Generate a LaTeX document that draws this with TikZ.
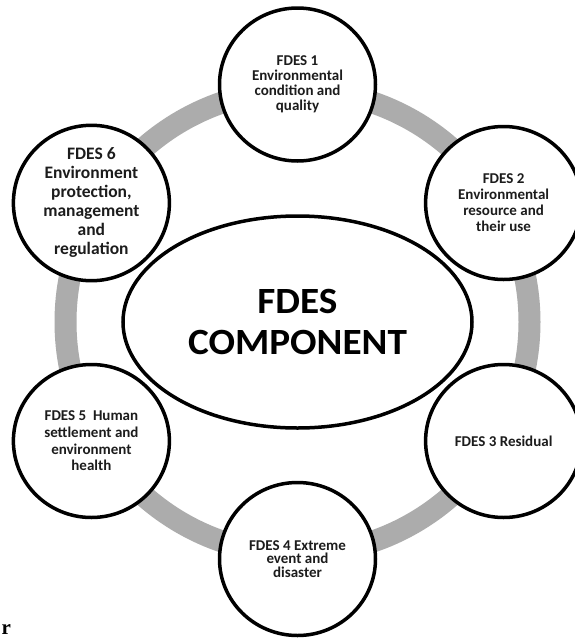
\documentclass[tikz,border=0pt]{standalone}
\usepackage{fontspec}
\setmainfont{Carlito}
\newfontfamily\widecal{Carlito}[FakeStretch=1.06]
\newfontfamily\serifr{Liberation Serif}
\usetikzlibrary{shapes.geometric}
\definecolor{ringgray}{RGB}{172,172,172}
\definecolor{textgray}{RGB}{28,28,28}
\begin{document}
\begin{tikzpicture}[x=1pt,y=-1pt,
  ring/.style={line width=22pt, draw=ringgray},
  bubble/.style={ellipse, draw=black, line width=3.5pt, fill=white, inner sep=0pt,
    minimum width=156pt, minimum height=153pt, align=center, text=textgray},
  small/.style={font=\bfseries\fontsize{15}{#1}\selectfont},
]
\useasboundingbox (0,0) rectangle (574,638);
\fill[white] (0,0) rectangle (574,638);
\coordinate (rc) at (297.5,322);
\draw[ring] (rc) circle (232pt);
% bubbles with their texts
\node[bubble, small=15] (c1) at (297.5,84.5) {FDES 1\\Environmental\\condition and\\quality};
\node[bubble, small=16] (c2) at (503.6,203) {FDES 2\\Environmental\\resource and\\their use};
\node[bubble, small=15] (c3) at (503.6,441) {FDES 3 Residual};
\node[bubble, small=13.5] (c4) at (297.5,559) {FDES 4 Extreme\\event and\\disaster};
\node[bubble, small=16.7] (c5) at (91.4,441) {FDES 5\ \ Human\\settlement and\\environment\\health};
\node[bubble, font=\bfseries\fontsize{17.5}{19}\selectfont] (c6) at (91.4,203) {FDES 6\\Environment\\protection,\\management\\and\\regulation};
\node[bubble, minimum width=349pt, minimum height=212pt, text=black,
  font=\widecal\bfseries\fontsize{37}{41}\selectfont] (ce) at (297.5,322) {FDES\\COMPONENT};
% stray glyph at bottom left
\node[inner sep=0pt, anchor=base west, font=\serifr\bfseries\fontsize{21}{21}\selectfont] (rr) at (1.5,634) {r};
\end{tikzpicture}
\end{document}
